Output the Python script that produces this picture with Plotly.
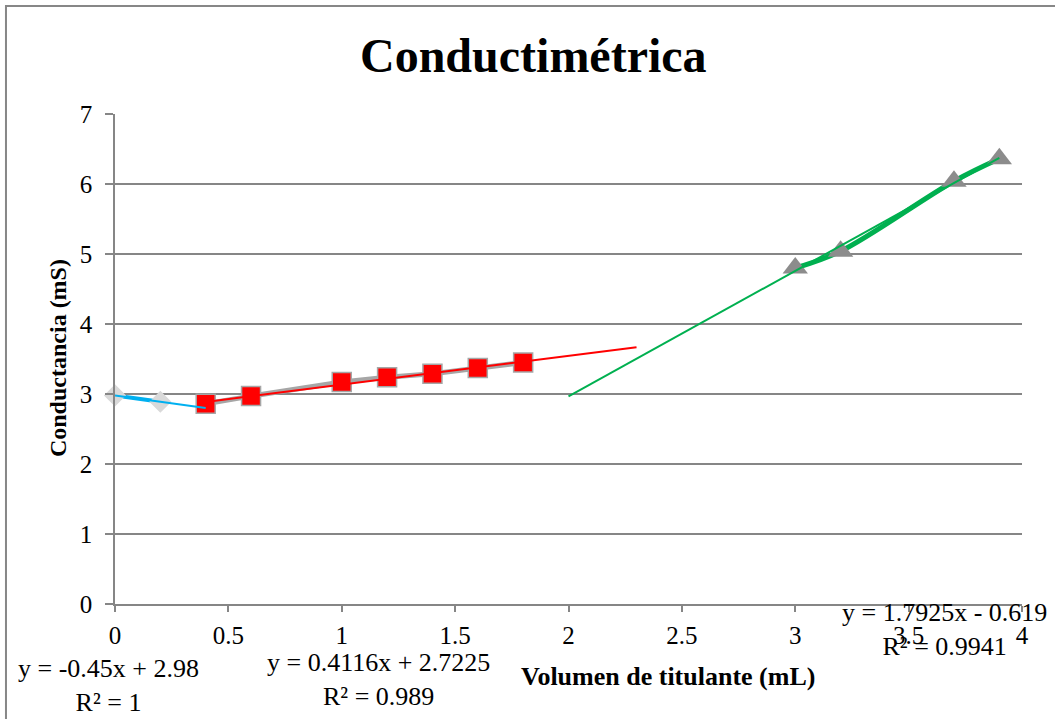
import plotly.graph_objects as go

# Titration data: volume of titrant (mL) vs conductance (mS)
vol_a = [0.0, 0.2]
cond_a = [2.98, 2.89]

vol_b = [0.4, 0.6, 1.0, 1.2, 1.4, 1.6, 1.8]
cond_b = [2.86, 2.97, 3.17, 3.24, 3.29, 3.37, 3.45]

vol_c = [3.0, 3.2, 3.7, 3.9]
cond_c = [4.80, 5.04, 6.04, 6.36]

# Linear trendlines: slope, intercept, x-span drawn
fit_slopes = [-0.45, 0.4116, 1.7925]
fit_intercepts = [2.98, 2.7225, -0.619]
fit_spans = [(0.0, 0.4), (0.4, 2.3), (2.0, 3.9)]
fit_labels = ["y = -0.45x + 2.98<br>R² = 1",
              "y = 0.4116x + 2.7225<br>R² = 0.989",
              "y = 1.7925x - 0.619<br>R² = 0.9941"]
fit_colors = ["#00B0F0", "#FF0000", "#00B050"]

FONT = "Liberation Serif"
GRID = "#868686"

fig = go.Figure()

# Series 1: light grey diamonds joined by a blue line
fig.add_trace(go.Scatter(
    x=vol_a, y=cond_a, mode="lines+markers",
    line=dict(color="#00B0F0", width=4),
    marker=dict(symbol="diamond", size=17, color="#D9D9D9"),
    cliponaxis=False, showlegend=False))

# Series 2: red squares joined by a grey line
fig.add_trace(go.Scatter(
    x=vol_b, y=cond_b, mode="lines+markers",
    line=dict(color="#A6A6A6", width=5),
    marker=dict(symbol="square", size=19, color="#FF0000",
                line=dict(color="#A6A6A6", width=1.5)),
    showlegend=False))

# Series 3: grey triangles joined by a smoothed green line
fig.add_trace(go.Scatter(
    x=vol_c, y=cond_c, mode="lines+markers",
    line=dict(color="#00B050", width=5, shape="spline"),
    marker=dict(symbol="triangle-up", size=22, color="#8C8C8C"),
    showlegend=False))

# Trendlines from the fitted equations
for m, b, (x0, x1), col in zip(fit_slopes, fit_intercepts, fit_spans, fit_colors):
    fig.add_trace(go.Scatter(
        x=[x0, x1], y=[m * x0 + b, m * x1 + b], mode="lines",
        line=dict(color=col, width=2), showlegend=False, hoverinfo="skip"))

# Equation labels (paper coordinates, centred)
label_pos = [(-0.0077, -0.167), (0.2910, -0.155), (0.9151, -0.053)]
for text, (px, py) in zip(fit_labels, label_pos):
    fig.add_annotation(text=text, xref="paper", yref="paper", x=px, y=py,
                       xanchor="center", yanchor="middle",
                       showarrow=False, align="center",
                       font=dict(family=FONT, size=26, color="black"))

# Axis titles
fig.add_annotation(text="<b>Volumen de titulante (mL)</b>", xref="paper", yref="paper",
                   x=0.6097, y=-0.147, xanchor="center", yanchor="middle",
                   showarrow=False,
                   font=dict(family=FONT, size=26, color="black"))
fig.add_annotation(text="<b>Conductancia (mS)</b>", xref="paper", yref="paper",
                   x=-0.0628, y=0.502, xanchor="center", yanchor="middle",
                   showarrow=False, textangle=-90,
                   font=dict(family=FONT, size=24, color="black"))

# Chart title
fig.add_annotation(text="<b>Conductimétrica</b>", xref="paper", yref="paper",
                   x=0.461, y=1.120, xanchor="center", yanchor="middle",
                   showarrow=False,
                   font=dict(family=FONT, size=48, color="black"))

# Outer chart frame
fig.add_shape(type="rect", xref="paper", yref="paper",
              x0=-0.1202, x1=1.12, y0=-0.3, y1=1.2204,
              line=dict(color="#878787", width=2), layer="below")

fig.update_xaxes(range=[0, 4], dtick=0.5, tick0=0, showgrid=False,
                 showline=True, linecolor=GRID, linewidth=1.5,
                 ticks="outside", ticklen=6, tickcolor=GRID, tickwidth=1.5,
                 zeroline=False, ticklabelstandoff=2,
                 tickfont=dict(family=FONT, size=25, color="black"))
fig.update_yaxes(range=[0, 7], dtick=1, tick0=0, showgrid=True,
                 gridcolor=GRID, gridwidth=1.5,
                 showline=True, linecolor=GRID, linewidth=1.5,
                 ticks="outside", ticklen=8, tickcolor=GRID, tickwidth=1.5,
                 zeroline=False, ticklabelstandoff=8,
                 tickfont=dict(family=FONT, size=25, color="black"))

fig.update_layout(
    width=1055, height=719,
    margin=dict(l=115, r=33, t=114, b=115),
    paper_bgcolor="white", plot_bgcolor="white",
    font=dict(family=FONT, color="black"),
    showlegend=False)

fig.write_html("out.html")
